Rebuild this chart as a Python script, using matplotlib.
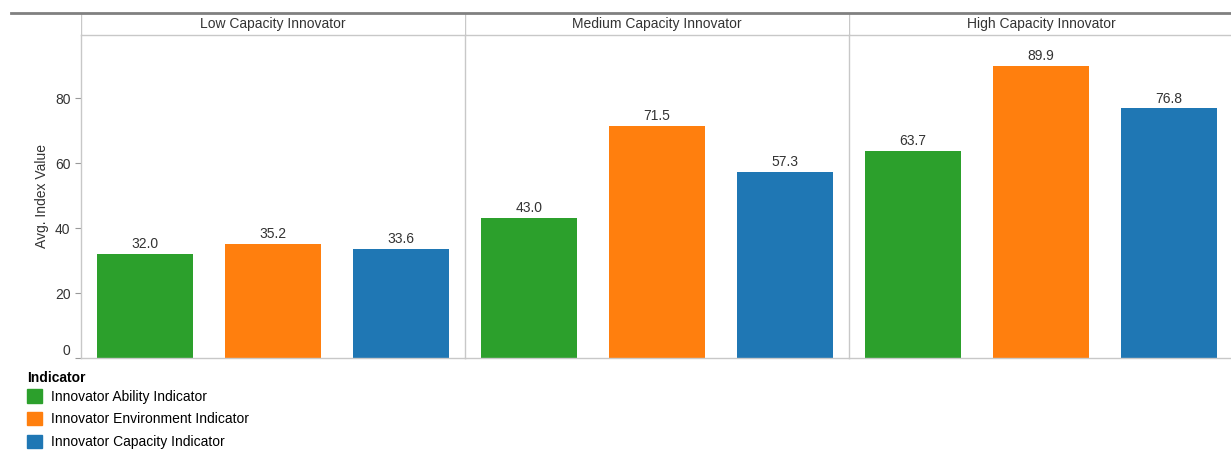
import matplotlib.pyplot as plt
from matplotlib.patches import Patch
from matplotlib.lines import Line2D

plt.rcParams['font.family'] = ['Liberation Sans', 'DejaVu Sans']

groups = ['Low Capacity Innovator', 'Medium Capacity Innovator', 'High Capacity Innovator']
indicators = ['Innovator Ability Indicator', 'Innovator Environment Indicator',
              'Innovator Capacity Indicator']
ability = [32.0, 43.0, 63.7]
environment = [35.2, 71.5, 89.9]
capacity = [33.6, 57.3, 76.8]
colors = ['#2ca02c', '#ff7f0e', '#1f77b4']
yticks = [0, 20, 40, 60, 80]

W, H = 1231, 451
fig = plt.figure(figsize=(W / 100, H / 100), dpi=100)


def px(x0, y0, x1, y1):
    # pixel box (top-left origin) -> figure fraction rect
    return [x0 / W, 1 - y1 / H, (x1 - x0) / W, (y1 - y0) / H]


grid_col = '#c8c8c8'
left, top, bottom, pw = 81, 35, 358, 384

for i, g in enumerate(groups):
    ax = fig.add_axes(px(left + pw * i, top, left + pw * (i + 1), bottom))
    vals = [ability[i], environment[i], capacity[i]]
    bars = ax.bar(range(3), vals, width=0.75, color=colors)
    for b, v in zip(bars, vals):
        ax.text(b.get_x() + b.get_width() / 2, v + 0.9, f'{v:.1f}',
                ha='center', va='bottom', fontsize=10, color='#333333')
    ax.set_xlim(-0.5, 2.5)
    ax.set_ylim(0, 99.4)
    ax.set_xticks([])
    for s in ax.spines.values():
        s.set_color(grid_col)
        s.set_linewidth(1)
    ax.spines['right'].set_visible(False)
    if i == 0:
        ax.set_yticks(yticks)
        ax.tick_params(axis='y', labelsize=10, colors='#333333', length=4,
                       width=0.8, color='#999999')
        ax.get_yticklabels()[0].set_va('bottom')
        ax.set_ylabel('Avg. Index Value', fontsize=10, color='#333333', labelpad=4)
    else:
        ax.set_yticks([])
    # header
    hax = fig.add_axes(px(left + pw * i, 13, left + pw * (i + 1), top))
    hax.axis('off')
    hax.text(0.5, 0.5, g, ha='center', va='center', fontsize=10, color='#333333')
    hax.add_line(Line2D([0, 0], [0, 1], color=grid_col, lw=1,
                        transform=hax.transAxes))

# top dark rule
fig.add_artist(Line2D([11 / W, 1], [1 - 13 / H] * 2, color='#808080', lw=2,
                      transform=fig.transFigure))

handles = [Patch(color=c, label=l) for c, l in zip(colors, indicators)]
leg = fig.legend(handles=handles, title='Indicator', loc='upper left',
                 bbox_to_anchor=(27 / W, 1 - 371 / H), frameon=False,
                 fontsize=10, title_fontsize=10, handlelength=1.1,
                 handleheight=1.1, handletextpad=0.6, labelspacing=0.6,
                 borderaxespad=0, borderpad=0)
leg.get_title().set_fontweight('bold')
leg._legend_box.align = 'left'
leg._legend_box.sep = 3

fig.savefig('out.png', dpi=100)
